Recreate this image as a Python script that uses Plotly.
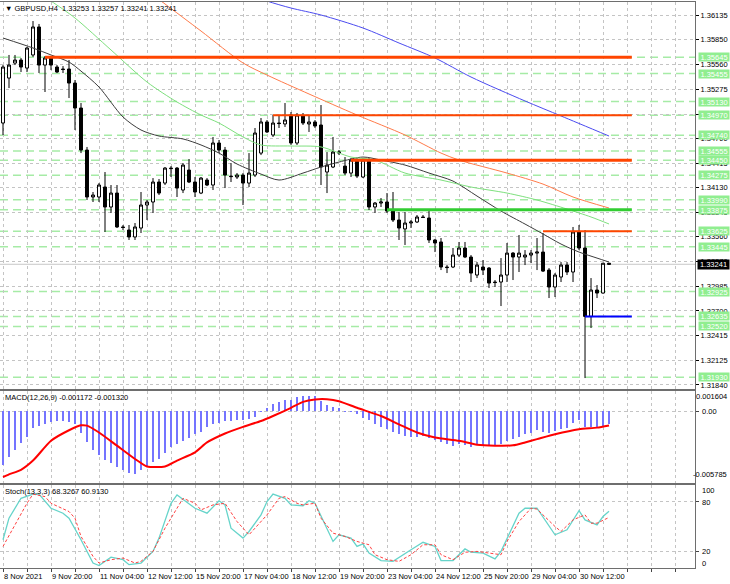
import plotly.graph_objects as go

# ---------------- data ----------------
bars = list(range(102))

opens = [1.34881,1.35403,1.35577,1.35612,1.35519,1.35671,1.35996,1.35554,1.35648,1.35531,
         1.35508,1.35508,1.35345,1.35055,1.34567,1.34022,1.34022,1.34138,1.33906,1.34068,
         1.33674,1.33639,1.33558,1.33662,1.33929,1.33964,1.34196,1.34184,1.34358,1.34358,
         1.34103,1.34335,1.34196,1.34068,1.34219,1.34161,1.34649,1.34567,1.34265,1.34254,
         1.34277,1.34184,1.34277,1.34532,1.34893,1.34742,1.34881,1.34870,1.34974,1.34649,
         1.34962,1.34870,1.34893,1.34858,1.34312,1.34370,1.34532,1.34381,1.34300,1.34451,
         1.34254,1.34451,1.33906,1.33952,1.33964,1.33859,1.33755,1.33651,1.33720,1.33732,
         1.33790,1.33778,1.33523,1.33500,1.33209,1.33209,1.33348,1.33430,1.33325,1.33116,
         1.33209,1.33197,1.33035,1.33035,1.33116,1.33371,1.33325,1.33325,1.33348,1.33371,
         1.33383,1.33174,1.32977,1.33093,1.33232,1.33151,1.33616,1.33430,1.32636,1.32942,
         1.32907,1.33253]
highs = [1.35554,1.35671,1.35671,1.35636,1.35764,1.36065,1.36031,1.35659,1.35659,1.35554,
         1.35542,1.35612,1.35380,1.35113,1.34603,1.34080,1.34184,1.34312,1.34161,1.34161,
         1.33697,1.33697,1.33720,1.34080,1.33987,1.34242,1.34231,1.34370,1.34381,1.34370,
         1.34416,1.34463,1.34254,1.34254,1.34242,1.34719,1.34684,1.34603,1.34416,1.34300,
         1.34300,1.34532,1.34823,1.34939,1.34916,1.34974,1.34974,1.35113,1.35009,1.34997,
         1.34997,1.34974,1.34916,1.35090,1.34544,1.34719,1.34567,1.34486,1.34474,1.34474,
         1.34474,1.34474,1.33964,1.34010,1.34068,1.34080,1.33848,1.33848,1.33755,1.33813,
         1.33813,1.33871,1.33535,1.33546,1.33232,1.33430,1.33500,1.33500,1.33348,1.33267,
         1.33290,1.33209,1.33058,1.33313,1.33488,1.33383,1.33581,1.33406,1.33406,1.33546,
         1.33604,1.33197,1.33139,1.33267,1.33267,1.33674,1.33697,1.33639,1.33081,1.33000,
         1.33257,1.33257]
lows = [1.34742,1.35287,1.35554,1.35473,1.35473,1.35648,1.35461,1.35241,1.35496,1.35461,
        1.35461,1.35171,1.34800,1.34532,1.33987,1.33964,1.33964,1.33616,1.33836,1.33662,
        1.33639,1.33523,1.33523,1.33604,1.33755,1.33836,1.34045,1.34161,1.34254,1.34022,
        1.34068,1.34184,1.34022,1.34056,1.34149,1.34103,1.34532,1.34126,1.34196,1.34231,
        1.33929,1.34138,1.34254,1.34509,1.34765,1.34719,1.34823,1.34835,1.34626,1.34626,
        1.34858,1.34777,1.34823,1.34161,1.34068,1.34358,1.34509,1.34277,1.34254,1.34242,
        1.34242,1.33871,1.33836,1.33906,1.33836,1.33732,1.33523,1.33465,1.33662,1.33720,
        1.33778,1.33488,1.33383,1.33174,1.33139,1.33197,1.33325,1.33313,1.33035,1.33081,
        1.33116,1.32965,1.32977,1.32756,1.33035,1.33058,1.33151,1.33232,1.33255,1.33174,
        1.33151,1.32849,1.32861,1.33035,1.33116,1.33035,1.33406,1.31920,1.32501,1.32849,
        1.32900,1.33241]
closes = [1.35531,1.35554,1.35612,1.35531,1.35752,1.35996,1.35554,1.35636,1.35554,1.35473,
          1.35502,1.35345,1.35055,1.34567,1.34022,1.34045,1.34161,1.33906,1.34068,1.33674,
          1.33668,1.33558,1.33674,1.33929,1.33964,1.34196,1.34068,1.34358,1.34352,1.34126,
          1.34393,1.34196,1.34080,1.34242,1.34161,1.34649,1.34567,1.34277,1.34259,1.34277,
          1.34184,1.34300,1.34765,1.34893,1.34777,1.34881,1.34875,1.34916,1.34649,1.34974,
          1.34881,1.34893,1.34846,1.34370,1.34393,1.34544,1.34544,1.34300,1.34451,1.34265,
          1.34451,1.33906,1.33952,1.33964,1.33859,1.33755,1.33662,1.33720,1.33732,1.33790,
          1.33784,1.33523,1.33488,1.33209,1.33203,1.33348,1.33430,1.33325,1.33139,1.33232,
          1.33174,1.33023,1.33029,1.33116,1.33371,1.33325,1.33371,1.33348,1.33371,1.33383,
          1.33162,1.32977,1.33116,1.33232,1.33151,1.33616,1.33430,1.32636,1.32942,1.32907,
          1.33253,1.33241]

ma_dark_bars = [0,5,8,11,13,16,20,23,26,30,33,36,39,43,46,50,53,56,60,63,67,71,75,79,83,87,90,93,96,99,101]
ma_dark_vals = [1.35868,1.35752,1.35671,1.35589,1.35484,1.35299,1.34951,1.34800,1.34730,1.34696,1.34626,
                1.34532,1.34405,1.34288,1.34219,1.34300,1.34370,1.34428,1.34486,1.34451,1.34393,1.34300,
                1.34207,1.34033,1.33859,1.33708,1.33593,1.33476,1.33383,1.33313,1.33267]
ma_green_bars = [5,8,12,18,24,29,33,36,40,43,48,53,58,62,67,73,78,84,89,94,98,101]
ma_green_vals = [1.36431,1.36297,1.36100,1.35729,1.35357,1.35125,1.34974,1.34881,1.34719,1.34626,1.34614,
                 1.34603,1.34486,1.34451,1.34300,1.34219,1.34138,1.34068,1.33987,1.33882,1.33790,1.33709]
ma_orange_bars = [25,27,33,40,44,51,59,67,73,76,84,90,95,101]
ma_orange_vals = [1.36367,1.36263,1.35949,1.35578,1.35438,1.35218,1.34974,1.34742,1.34532,1.34451,
                  1.34300,1.34172,1.34022,1.33894]
ma_blue_bars = [40,44,48,53,60,66,72,78,87,93,101]
ma_blue_vals = [1.36402,1.36297,1.36216,1.36135,1.35984,1.35810,1.35636,1.35415,1.35137,1.34963,1.34730]

macd_hist = [-0.00491,-0.00425,-0.00358,-0.00297,-0.00236,-0.00158,-0.00136,-0.00115,-0.00100,-0.00091,
             -0.00091,-0.00097,-0.00115,-0.00197,-0.00288,-0.00358,-0.00400,-0.00449,-0.00479,-0.00515,
             -0.00545,-0.00570,-0.00576,-0.00545,-0.00515,-0.00470,-0.00440,-0.00388,-0.00334,-0.00304,
             -0.00279,-0.00249,-0.00213,-0.00188,-0.00145,-0.00115,-0.00106,-0.00091,-0.00091,-0.00085,
             -0.00085,-0.00076,-0.00055,-0.00006,0.00030,0.00066,0.00085,0.00106,0.00106,0.00127,
             0.00136,0.00140,0.00136,0.00091,0.00060,0.00039,0.00024,-0.00002,-0.00006,-0.00030,
             -0.00061,-0.00085,-0.00115,-0.00145,-0.00167,-0.00188,-0.00215,-0.00233,-0.00242,-0.00242,
             -0.00233,-0.00249,-0.00267,-0.00288,-0.00304,-0.00318,-0.00304,-0.00309,-0.00327,-0.00309,
             -0.00309,-0.00318,-0.00318,-0.00304,-0.00279,-0.00258,-0.00242,-0.00213,-0.00197,-0.00176,
             -0.00188,-0.00197,-0.00182,-0.00167,-0.00152,-0.00106,-0.00085,-0.00145,-0.00145,-0.00145,
             -0.00145,-0.00117]
macd_sig_bars = [0,1,3,5,8,11,13,14,16,19,22,24,27,29,32,34,37,40,43,45,48,50,52,54,56,59,63,66,69,72,
                 76,79,82,85,87,89,92,96,99,101]
macd_sig_vals = [-0.00606,-0.00582,-0.00540,-0.00455,-0.00273,-0.00176,-0.00131,-0.00134,-0.00197,-0.00318,
                 -0.00440,-0.00509,-0.00509,-0.00455,-0.00379,-0.00288,-0.00206,-0.00145,-0.00091,-0.00045,
                 0.00030,0.00085,0.00107,0.00109,0.00091,0.00030,-0.00045,-0.00122,-0.00197,-0.00243,
                 -0.00273,-0.00309,-0.00318,-0.00315,-0.00288,-0.00258,-0.00213,-0.00167,-0.00152,-0.00132]

stoch_main_bars = [0,1,3,5,6,8,10,11,13,15,16,18,20,21,23,25,26,28,29,31,32,34,36,37,38,40,41,43,44,45,
                   47,48,50,51,52,55,56,58,59,60,61,63,65,68,70,72,73,75,77,78,80,82,83,86,87,89,92,94,
                   96,97,99,100,101]
stoch_main_vals = [34,60,84,89,89,72,66,60,34,6,3,13,10,4,6,20,36,78,88,78,72,66,81,76,48,36,44,64,80,89,
                   84,76,75,81,78,32,40,36,26,29,18,9,8,22,31,26,9,9,23,19,18,11,20,66,72,72,40,46,
                   69,58,52,62,68.33]
stoch_sig_bars = [0,2,4,5,7,8,11,12,13,15,16,18,20,22,23,25,27,29,30,32,33,35,37,39,41,42,44,46,47,49,
                  50,52,53,55,57,59,61,62,64,66,68,70,72,73,75,77,79,81,83,84,86,88,89,92,93,95,97,98,
                  99,101]
stoch_sig_vals = [26,52,78,89,86,78,68,60,38,14,6,10,12,6,8,20,48,72,84,78,70,76,78,56,40,48,64,84,86,78,
                  76,78,60,42,38,32,28,16,10,8,16,28,28,16,10,19,20,18,16,32,56,72,71,50,44,58,64,54,
                  54,60.91]

level_prices = [1.35645, 1.34970, 1.34450, 1.33875, 1.33625, 1.32636]
level_start_bars = [7, 45, 58, 64, 90, 97]
level_end_bar = 104.8

green_levels = [1.35645, 1.35455, 1.35130, 1.34970, 1.34740, 1.34555, 1.34450, 1.34275,
                1.33990, 1.33875, 1.33625, 1.33445, 1.32925, 1.32635, 1.32520, 1.31930]
price_ticks = [1.36135, 1.35850, 1.35560, 1.35275, 1.34985, 1.34700, 1.34415, 1.34130,
               1.33845, 1.33560, 1.33270, 1.32985, 1.32700, 1.32415, 1.32125, 1.31840]
current_price = 1.33241

time_label_bars = [0, 8, 16, 24, 32, 40, 48, 56, 64, 72, 80, 88, 96]
time_labels = ["8 Nov 2021", "9 Nov 20:00", "11 Nov 04:00", "12 Nov 12:00", "15 Nov 20:00",
               "17 Nov 04:00", "18 Nov 12:00", "19 Nov 20:00", "23 Nov 04:00", "24 Nov 12:00",
               "25 Nov 20:00", "29 Nov 04:00", "30 Nov 12:00"]

title_text = "GBPUSD,H4  1.33253 1.33257 1.33241 1.33241"
macd_text = "MACD(12,26,9) -0.001172 -0.001320"
stoch_text = "Stoch(13,3,3) 68.3267 60.9130"

# ---------------- layout helpers ----------------
W, H = 730, 584
T, B, R = 2, 16, 35
PH = H - T - B
PW = W - R


def py(pix):
    return (H - B - pix) / PH


FONT = "Liberation Sans"
GRID = "#c4c4c4"
fig = go.Figure()

fig.add_trace(go.Candlestick(
    x=bars, open=opens, high=highs, low=lows, close=closes,
    increasing=dict(line=dict(color="black", width=1), fillcolor="white"),
    decreasing=dict(line=dict(color="black", width=1), fillcolor="black"),
    whiskerwidth=0, xaxis="x", yaxis="y", hoverinfo="skip", showlegend=False))

for bx, vals, col in [(ma_dark_bars, ma_dark_vals, "#3c3c3c"),
                      (ma_green_bars, ma_green_vals, "#7ee07e"),
                      (ma_orange_bars, ma_orange_vals, "#ff7b4a"),
                      (ma_blue_bars, ma_blue_vals, "#4b4bf0")]:
    fig.add_trace(go.Scatter(x=bx, y=vals, mode="lines", xaxis="x", yaxis="y",
                             line=dict(color=col, width=1, shape="spline", smoothing=0.8),
                             hoverinfo="skip", showlegend=False))

level_styles = [("#ff4500", 3), ("#ff4500", 2), ("#ff4500", 3), ("#32cd32", 3), ("#ff4500", 2), ("#0000ff", 2)]
for p, s, (col, w) in zip(level_prices, level_start_bars, level_styles):
    fig.add_trace(go.Scatter(x=[s, level_end_bar], y=[p, p], mode="lines", xaxis="x", yaxis="y",
                             line=dict(color=col, width=w), hoverinfo="skip", showlegend=False))

# MACD
fig.add_trace(go.Bar(x=bars, y=macd_hist, xaxis="x2", yaxis="y2", marker_color="#7474ff",
                     marker_line_width=0, width=0.22, hoverinfo="skip", showlegend=False))
fig.add_trace(go.Scatter(x=macd_sig_bars, y=macd_sig_vals, mode="lines", xaxis="x2", yaxis="y2",
                         line=dict(color="#ff0000", width=2, shape="spline", smoothing=0.6),
                         hoverinfo="skip", showlegend=False))

# Stochastic
fig.add_trace(go.Scatter(x=stoch_main_bars, y=stoch_main_vals, mode="lines", xaxis="x3", yaxis="y3",
                         line=dict(color="#66d4ca", width=1.3), hoverinfo="skip", showlegend=False))
fig.add_trace(go.Scatter(x=stoch_sig_bars, y=stoch_sig_vals, mode="lines", xaxis="x3", yaxis="y3",
                         line=dict(color="#ff4040", width=1, dash="3px,2px"), hoverinfo="skip", showlegend=False))

shapes = []
for p in green_levels:
    shapes.append(dict(type="line", xref="paper", yref="y", x0=0, x1=1, y0=p, y1=p, layer="between",
                       line=dict(color="#a6eba6", width=1.5, dash="8px,5px")))
shapes.append(dict(type="line", xref="paper", yref="y", x0=0, x1=1, y0=current_price, y1=current_price,
                   layer="between", line=dict(color="#c8c8c8", width=1)))

annotations = []
tf = dict(family=FONT, size=7.5, color="black")
annotations.append(dict(xref="paper", yref="paper", x=0.004, y=py(9), xanchor="left", yanchor="middle",
                        text="\u25bc " + title_text, showarrow=False, font=tf))
annotations.append(dict(xref="paper", yref="paper", x=0.004, y=py(397), xanchor="left", yanchor="middle",
                        text=macd_text, showarrow=False, font=tf))
annotations.append(dict(xref="paper", yref="paper", x=0.004, y=py(492), xanchor="left", yanchor="middle",
                        text=stoch_text, showarrow=False, font=tf))
for p in green_levels:
    annotations.append(dict(xref="paper", yref="y", x=1, y=p, xanchor="left", yanchor="middle", xshift=3,
                            text=f"{p:.5f}", showarrow=False, bgcolor="#90ee90", width=30, height=8,
                            borderpad=0, font=dict(family=FONT, size=7.5, color="white")))
annotations.append(dict(xref="paper", yref="y", x=1, y=current_price, xanchor="left", yanchor="middle", xshift=2,
                        text=f"{current_price:.5f}", showarrow=False, bgcolor="black", width=31, height=9,
                        borderpad=0, font=dict(family=FONT, size=7.5, color="white")))
# lower-panel scale labels
for val, pix, anchor in [("0.001604", 396, "right"), ("0.00", 411, "left"), ("-0.005785", 475, "right"),
                         ("100", 490, "left"), ("80", 502, "left"), ("20", 551, "left"), ("0", 563, "left")]:
    xpos = (W - 1) / PW if anchor == "right" else 1
    annotations.append(dict(xref="paper", yref="paper", x=xpos, y=py(pix), xanchor=anchor, yanchor="middle",
                            xshift=(0 if anchor == "right" else 5), text=val, showarrow=False, font=tf))
for b, t in zip(time_label_bars, time_labels):
    annotations.append(dict(xref="x3", yref="paper", x=b, y=0, xanchor="left", yanchor="top", yshift=-2,
                            xshift=-1, text=t, showarrow=False, font=tf))

xcommon = dict(range=[-0.5, 115.33], showticklabels=False, tickmode="linear", tick0=0, dtick=4,
               showgrid=True, gridcolor=GRID, griddash="dot", gridwidth=1, zeroline=False,
               showline=True, mirror=True, linecolor="#6e6e6e", linewidth=1, fixedrange=True)

fig.update_layout(
    width=W, height=H, margin=dict(l=0, r=R, t=T, b=B),
    paper_bgcolor="white", plot_bgcolor="white", showlegend=False, bargap=0,
    xaxis=dict(**xcommon, anchor="y", rangeslider=dict(visible=False)),
    xaxis2=dict(**xcommon, anchor="y2", matches="x"),
    xaxis3=dict(**xcommon, anchor="y3", matches="x", ticks="outside", ticklen=3, tickcolor="#444"),
    yaxis=dict(domain=[py(389), py(2)], range=[1.31793, 1.36286], side="right",
               tickmode="array", tickvals=price_ticks, ticktext=[f"{v:.5f}" for v in price_ticks],
               tickfont=tf, ticks="outside", ticklen=3, tickcolor="black",
               showgrid=True, gridcolor=GRID, griddash="dot", zeroline=False,
               showline=True, linecolor="#6e6e6e", linewidth=1, fixedrange=True),
    yaxis2=dict(domain=[py(483), py(391)], range=[-0.006609, 0.001845], side="right",
                tickmode="array", tickvals=[0.0], showticklabels=False, ticks="outside", ticklen=3,
                showgrid=True, gridcolor=GRID, griddash="dot", zeroline=False,
                showline=True, linecolor="#6e6e6e", linewidth=1, fixedrange=True),
    yaxis3=dict(domain=[0, py(485)], range=[0, 100], side="right",
                tickmode="array", tickvals=[20, 80], showticklabels=False, ticks="outside", ticklen=3,
                showgrid=True, gridcolor=GRID, griddash="dot", zeroline=False,
                showline=True, linecolor="#6e6e6e", linewidth=1, fixedrange=True),
    shapes=shapes, annotations=annotations,
)

fig.write_html("out.html", config={"displayModeBar": False},
               post_script="document.body.style.margin='0';document.body.style.overflow='hidden';")
